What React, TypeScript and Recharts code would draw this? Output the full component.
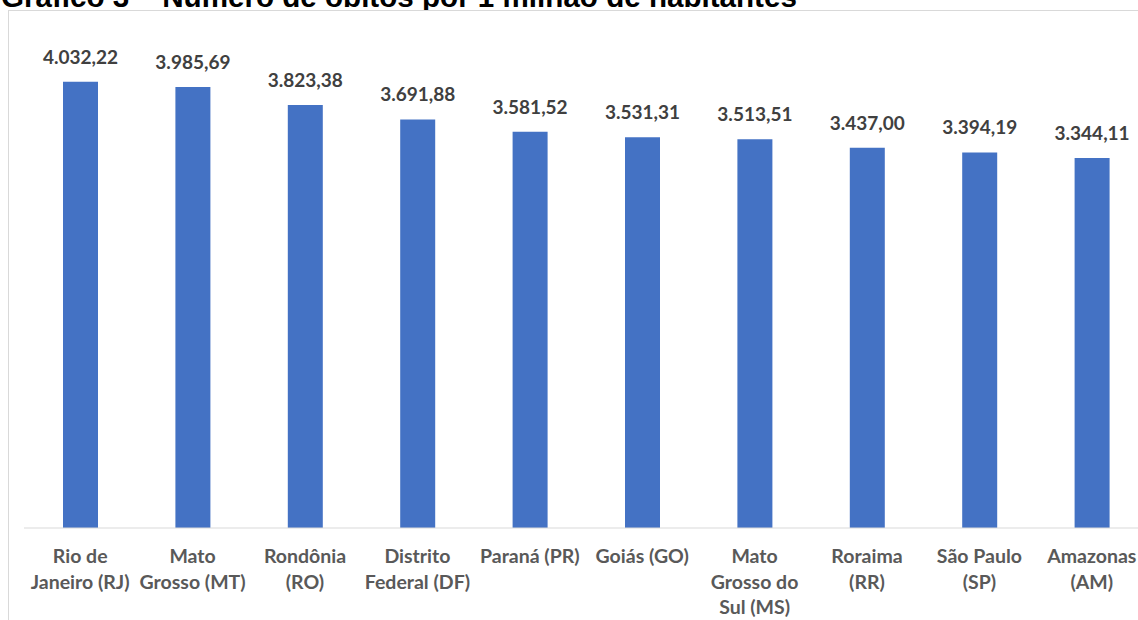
import React from "react";
import { BarChart, Bar, XAxis, YAxis, LabelList } from "recharts";

const estados = [
  "Rio de Janeiro (RJ)",
  "Mato Grosso (MT)",
  "Rondônia (RO)",
  "Distrito Federal (DF)",
  "Paraná (PR)",
  "Goiás (GO)",
  "Mato Grosso do Sul (MS)",
  "Roraima (RR)",
  "São Paulo (SP)",
  "Amazonas (AM)",
];

const obitosPorMilhao = [
  4032.22, 3985.69, 3823.38, 3691.88, 3581.52, 3531.31, 3513.51, 3437.0, 3394.19, 3344.11,
];

const tickLabels = [
  ["Rio de", "Janeiro (RJ)"],
  ["Mato", "Grosso (MT)"],
  ["Rondônia", "(RO)"],
  ["Distrito", "Federal (DF)"],
  ["Paraná (PR)"],
  ["Goiás (GO)"],
  ["Mato", "Grosso do", "Sul (MS)"],
  ["Roraima", "(RR)"],
  ["São Paulo", "(SP)"],
  ["Amazonas", "(AM)"],
];

const data = estados.map((estado, i) => ({
  estado,
  valor: obitosPorMilhao[i],
}));

const fontFamily = "Lato, 'Open Sans', sans-serif";

// 4032.22 -> "4.032,22"
const formatBR = (v: number) => {
  const [int, dec] = v.toFixed(2).split(".");
  return int.replace(/\B(?=(\d{3})+(?!\d))/g, ".") + "," + dec;
};

const EstadoTick = (props: any) => {
  const { x, y, payload } = props;
  const lines = tickLabels[payload.index] || [payload.value];
  return (
    <text
      x={x}
      y={y + 35}
      textAnchor="middle"
      fill="#595959"
      fontFamily={fontFamily}
      fontWeight={700}
      fontSize={19.5}
    >
      {lines.map((line: string, i: number) => (
        <tspan key={i} x={x} dy={i === 0 ? 0 : 25.7}>
          {line}
        </tspan>
      ))}
    </text>
  );
};

const ValorLabel = (props: any) => {
  const { x, y, width, value } = props;
  return (
    <text
      x={x + width / 2}
      y={y - 18}
      textAnchor="middle"
      fill="#404040"
      fontFamily={fontFamily}
      fontWeight={700}
      fontSize={19}
    >
      {formatBR(value)}
    </text>
  );
};

export default function App() {
  return (
    <div>
      <div
        style={{
          position: "absolute",
          left: 1,
          top: -18,
          fontFamily: "'Liberation Sans', Arial, sans-serif",
          fontWeight: 700,
          fontSize: 29.6,
          lineHeight: "29.6px",
          color: "#000",
          whiteSpace: "nowrap",
        }}
      >
        Gráfico 3 – Número de óbitos por 1 milhão de habitantes
      </div>
      <div
        style={{
          position: "absolute",
          left: 8,
          top: 10,
          width: 1130,
          height: 610,
          overflow: "hidden",
        }}
      >
        <div
          style={{
            width: 1200,
            height: 680,
            border: "1px solid #d9d9d9",
            background: "#fff",
          }}
        >
          <BarChart
            width={1180}
            height={660}
            data={data}
            margin={{ top: 19, right: 41, bottom: 0, left: 15 }}
            barSize={35}
          >
            <XAxis
              dataKey="estado"
              interval={0}
              tickLine={false}
              tickSize={0}
              tickMargin={0}
              axisLine={{ stroke: "#d9d9d9", strokeWidth: 1 }}
              height={143}
              tick={<EstadoTick />}
            />
            <YAxis hide domain={[0, 4500]} />
            <Bar dataKey="valor" fill="#4472C4" isAnimationActive={false}>
              <LabelList dataKey="valor" content={<ValorLabel />} />
            </Bar>
          </BarChart>
        </div>
      </div>
    </div>
  );
}
